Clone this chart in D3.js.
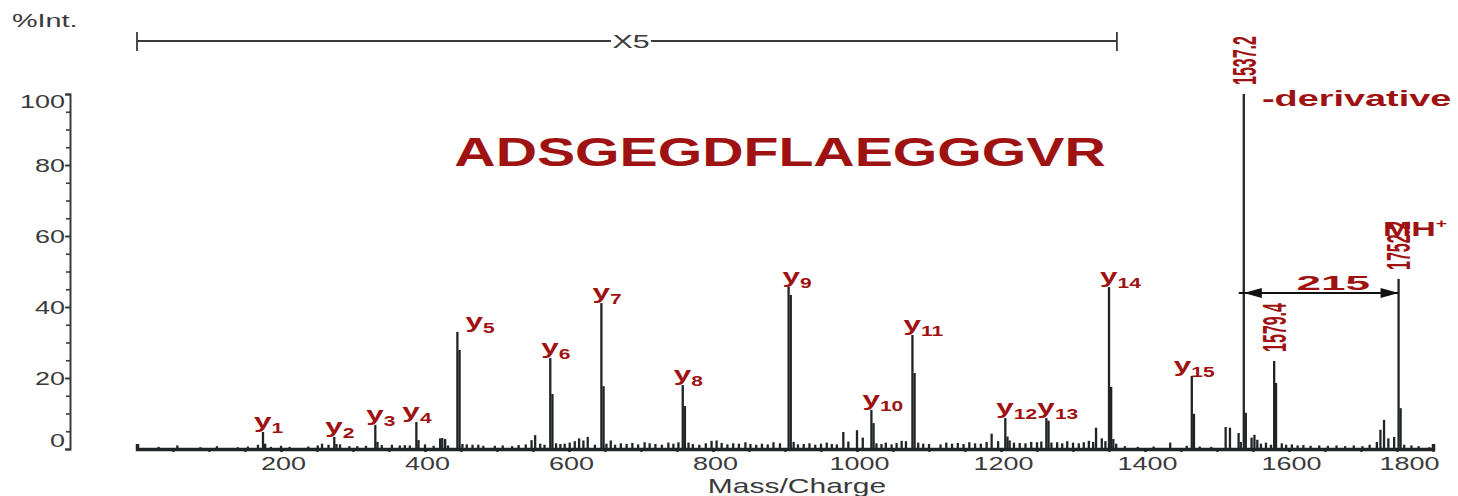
<!DOCTYPE html>
<html><head><meta charset="utf-8">
<script src="https://cdn.jsdelivr.net/npm/d3@7"></script>
<style>
html,body{margin:0;padding:0;background:#fff;}
svg{display:block;}
text{font-family:"Liberation Sans",Arial,Helvetica,sans-serif;}
</style></head><body>
<svg id="chart" width="1458" height="496"></svg>
<script>
// y-ion series of ADSGEGDFLAEGGGVR (fragment number, m/z, %Int.)
const ionNumber = [1,2,3,4,5,6,7,8,9,10,11,12,13,14,15];
const ionMz = [175,274,331,388,445,574,645,758,905,1020,1077,1206,1263,1350,1465];
const ionIntensity = [4.8,3.4,6.8,7.6,33.0,25.6,41.1,18.0,45.7,11.0,32.1,8.7,8.7,45.6,20.6];
// isotope shoulders just above each y-ion
const ionIsotopeMz = [178,277,334,391,448,577,648,761,908,1023,1080,1209,1266,1353,1468];
const ionIsotopeIntensity = [1.5,1.4,2.0,2.5,27.9,15.5,17.7,12.1,43.4,7.3,21.4,3.5,8.0,17.5,9.9];

// peaks labelled with their m/z
const markedMz = [1537.2, 1579.4, 1752.2];
const markedLabel = ["1537.2", "1579.4", "1752.2"];
const markedIntensity = [100, 24.8, 47.9];
const markedIsotopeMz = [1540, 1582, 1755];
const markedIsotopeIntensity = [10.2, 18.6, 11.5];

// remaining background peaks [m/z, %Int.]
const minorPeaks = [
  [30,0.6],[56,1.0],[88,0.5],[111,0.8],[140,0.5],[154,0.7],[168,1.2],[186,0.6],[200,0.9],[212,0.6],
  [238,0.7],[251,1.0],[257,1.5],[266,1.2],[282,1.3],[295,0.8],[306,0.8],[318,0.9],[340,1.1],[354,1.2],
  [365,1.0],[372,1.1],[379,1.0],[400,1.3],[412,0.9],[421,3.0],[424,3.1],[428,2.8],[432,1.0],
  [452,1.4],[458,1.3],[466,1.2],[474,1.2],[481,0.9],[497,0.9],[508,1.0],[521,0.8],[530,1.1],[540,1.3],
  [548,2.5],[553,3.9],[560,1.5],[566,1.2],[582,1.6],[588,1.4],[594,1.5],[601,1.8],[608,2.2],[614,3.0],
  [620,2.4],[626,3.4],[636,1.2],[652,1.5],[658,2.4],[664,1.2],[672,1.6],[680,1.4],[688,1.7],[696,1.3],
  [705,1.9],[712,1.6],[720,1.4],[729,1.2],[738,1.8],[745,1.5],[752,1.9],[766,1.8],[772,1.4],[781,1.2],
  [790,1.6],[798,2.3],[805,2.4],[812,1.7],[820,1.3],[828,1.6],[836,1.5],[845,1.9],[852,1.4],[860,1.2],
  [868,1.5],[876,1.3],[884,1.9],[893,1.6],[912,2.0],[918,1.3],[926,1.4],[934,1.6],[942,1.2],[950,1.5],
  [958,1.8],[965,1.4],[972,1.3],[981,4.8],[988,2.1],[1000,5.3],[1008,3.2],[1027,1.6],[1034,1.4],[1040,1.8],
  [1048,1.3],[1055,1.7],[1062,2.3],[1068,2.2],[1085,1.8],[1092,1.5],[1100,1.4],[1116,1.3],[1124,1.8],[1132,1.5],
  [1140,1.7],[1148,1.4],[1156,1.9],[1164,1.6],[1172,1.5],[1180,2.0],[1187,4.3],[1196,2.2],[1212,2.4],[1218,1.8],
  [1226,1.7],[1234,1.6],[1242,2.0],[1250,1.9],[1256,2.1],[1270,1.8],[1278,1.9],[1285,1.6],[1292,2.2],[1300,1.8],
  [1308,1.6],[1315,1.9],[1322,2.3],[1328,2.0],[1332,6.0],[1340,3.0],[1345,2.2],[1356,2.8],[1360,1.5],
  [1372,0.8],[1390,0.6],[1412,0.7],[1435,1.8],[1458,0.9],[1476,0.7],[1492,0.6],[1512,6.2],[1518,6.0],[1530,4.5],
  [1533,2.0],[1548,3.2],[1552,4.0],[1556,2.6],[1561,1.5],[1568,1.8],[1575,1.2],[1590,1.6],[1596,1.2],[1604,1.3],
  [1612,1.0],[1620,1.1],[1630,0.9],[1642,1.0],[1654,0.9],[1666,1.0],[1678,0.8],[1690,1.0],[1702,0.8],[1712,1.2],
  [1722,2.0],[1727,5.4],[1732,8.2],[1738,3.0],[1746,3.4],[1760,1.2],[1770,1.0],[1780,0.8],[1795,0.5]
];

// axis ticks
const xTicks = [200,400,600,800,1000,1200,1400,1600,1800];
const xMinorTicks = d3.range(50, 1800, 50);
const yTicks = [0,20,40,60,80,100];
const yMinorTicks = d3.range(0, 101, 5);

// magnified (x5) m/z window and the neutral-loss span
const magnifiedRange = [0, 1361];
const lossSpan = [1537.2, 1752.2];
const lossLabel = "215";
const sequence = "ADSGEGDFLAEGGGVR";

const RED = "#9e1212";
const INK = "#202427";
const GREY = "#3a3a3a";

const svg = d3.select("#chart");
const x = d3.scaleLinear().domain([0, 1800]).range([137, 1433]);
const y = d3.scaleLinear().domain([0, 100]).range([449, 94]);

function stretched(g, str, px, py, sx, opts = {}) {
  return g.append("text")
    .attr("transform", `translate(${px},${py}) scale(${sx},1)`)
    .attr("text-anchor", opts.anchor || "start")
    .attr("font-size", opts.size || 18)
    .attr("font-weight", opts.weight || "normal")
    .attr("fill", opts.fill || GREY)
    .text(str);
}

// ---- peaks ----
const peaks = [];
minorPeaks.forEach(([m, v]) => peaks.push({m, v}));
ionMz.forEach((m, i) => peaks.push({m: ionIsotopeMz[i], v: ionIsotopeIntensity[i]}));
markedMz.forEach((m, i) => peaks.push({m: markedIsotopeMz[i], v: markedIsotopeIntensity[i]}));
ionMz.forEach((m, i) => peaks.push({m, v: ionIntensity[i]}));
markedMz.forEach((m, i) => peaks.push({m, v: markedIntensity[i]}));

svg.append("g").selectAll("line").data(peaks).join("line")
  .attr("x1", d => x(d.m)).attr("x2", d => x(d.m))
  .attr("y1", y(0)).attr("y2", d => y(d.v))
  .attr("stroke", INK).attr("stroke-width", 2.3);

// ---- axes ----
const xAxisG = svg.append("g").attr("transform", `translate(0,${y(0)})`)
  .call(d3.axisBottom(x).tickValues(xTicks).tickSize(3).tickSizeOuter(-5).tickFormat(d3.format("d")));
xAxisG.select(".domain").attr("stroke", INK).attr("stroke-width", 3.5);
xAxisG.selectAll(".tick line").attr("stroke", INK).attr("stroke-width", 2);
xAxisG.selectAll(".tick text")
  .attr("y", 0).attr("dy", 0)
  .attr("font-size", 18).attr("fill", GREY)
  .attr("font-family", "Liberation Sans, Arial, sans-serif")
  .attr("text-anchor", d => d === 1800 ? "end" : "middle")
  .attr("transform", d => `translate(${d === 1800 ? 6 : 2},21) scale(1.5,1)`);
svg.append("g").attr("transform", `translate(0,${y(0)})`)
  .call(d3.axisBottom(x).tickValues(xMinorTicks).tickSize(3).tickFormat(""))
  .call(g => g.select(".domain").remove())
  .selectAll(".tick line").attr("stroke", INK).attr("stroke-width", 2);

const yAxisG = svg.append("g").attr("transform", "translate(70,0)")
  .call(d3.axisLeft(y).tickValues(yTicks).tickSize(5).tickSizeOuter(5));
yAxisG.select(".domain").attr("stroke", GREY).attr("stroke-width", 2);
yAxisG.selectAll(".tick line").attr("stroke", GREY).attr("stroke-width", 1.6);
yAxisG.selectAll(".tick text")
  .attr("x", 0).attr("dy", "0.35em")
  .attr("font-size", 18).attr("fill", GREY)
  .attr("font-family", "Liberation Sans, Arial, sans-serif")
  .attr("transform", d => `translate(-5,${d === 0 ? -9 : d === 100 ? 7 : 0}) scale(1.5,1)`);
svg.append("g").attr("transform", "translate(70,0)")
  .call(d3.axisLeft(y).tickValues(yMinorTicks).tickSize(4).tickFormat(""))
  .call(g => g.select(".domain").remove())
  .selectAll(".tick line").attr("stroke", GREY).attr("stroke-width", 1.6);

// axis titles
stretched(svg, "%Int.", 12, 27, 1.6, {size: 18});
stretched(svg, "Mass/Charge", 797, 493, 1.5, {size: 20, anchor: "middle"});

// ---- x5 magnification bracket ----
const br = svg.append("g").attr("stroke", GREY).attr("stroke-width", 1.8);
const bx0 = x(magnifiedRange[0]), bx1 = x(magnifiedRange[1]);
br.append("line").attr("x1", bx0).attr("x2", bx1).attr("y1", 41).attr("y2", 41);
br.append("line").attr("x1", bx0).attr("x2", bx0).attr("y1", 32).attr("y2", 51);
br.append("line").attr("x1", bx1).attr("x2", bx1).attr("y1", 32).attr("y2", 51);
svg.append("rect").attr("x", 611).attr("y", 33).attr("width", 40).attr("height", 16).attr("fill", "#fff");
stretched(svg, "X5", 631, 48, 1.6, {size: 19, anchor: "middle"});

// ---- peptide sequence ----
stretched(svg, sequence, 780, 166, 1.43, {size: 40, weight: "bold", anchor: "middle", fill: RED});

// ---- y-ion labels ----
const labelShift = {4: -5, 5: 17, 9: 3, 15: -9};
ionNumber.forEach((n, i) => {
  const px = x(ionMz[i]) + (labelShift[n] || 0) - 9;
  const py = y(ionIntensity[i]) - 4;
  const t = svg.append("text")
    .attr("transform", `translate(${px},${py}) scale(1.5,1)`)
    .attr("font-size", 21).attr("font-weight", "bold").attr("fill", RED);
  t.append("tspan").text("y");
  t.append("tspan").attr("font-size", 14).attr("dy", 5).text(n);
});

// ---- vertical m/z labels ----
markedMz.forEach((m, i) => {
  const px = x(m), py = y(markedIntensity[i]) - 9;
  svg.append("text")
    .attr("transform", `translate(${px},${py}) rotate(-90) scale(1,2.1)`)
    .attr("dy", "0.35em")
    .attr("font-size", 16).attr("font-weight", "bold").attr("fill", RED)
    .text(markedLabel[i]);
});

// precursor annotations
stretched(svg, "-derivative", 1262, 106, 1.72, {size: 22, weight: "bold", fill: RED});
const mh = svg.append("text")
  .attr("transform", "translate(1383,236) scale(1.62,1)")
  .attr("font-size", 21).attr("font-weight", "bold").attr("fill", RED);
mh.append("tspan").text("MH");
mh.append("tspan").attr("font-size", 12).attr("dy", -8).text("+");

// ---- neutral loss arrow ----
const ay = 293;
const ax0 = x(lossSpan[0]), ax1 = x(lossSpan[1]);
svg.append("line").attr("x1", ax0 - 5).attr("x2", ax1).attr("y1", ay).attr("y2", ay)
  .attr("stroke", "#111").attr("stroke-width", 2);
svg.append("path").attr("d", `M${ax0},${ay}L${ax0 + 18},${ay - 5}L${ax0 + 18},${ay + 5}Z`).attr("fill", "#111");
svg.append("path").attr("d", `M${ax1},${ay}L${ax1 - 18},${ay - 5}L${ax1 - 18},${ay + 5}Z`).attr("fill", "#111");
stretched(svg, lossLabel, (ax0 + ax1) / 2 + 12, 290, 2.1, {size: 21, weight: "bold", anchor: "middle", fill: RED});
</script>
</body></html>
